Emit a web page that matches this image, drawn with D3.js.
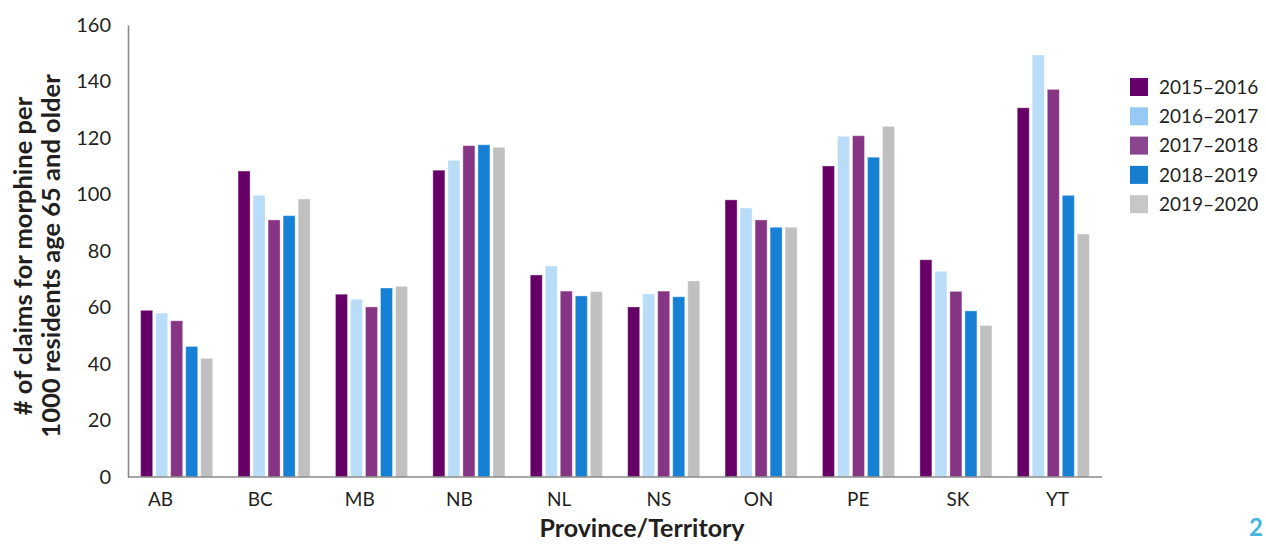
<!DOCTYPE html>
<html>
<head>
<meta charset="utf-8">
<script src="https://cdn.jsdelivr.net/npm/d3@7"></script>
<style>
  html, body { margin: 0; padding: 0; background: #fff; }
  svg { display: block; }
  text { font-family: Lato, "Noto Sans", sans-serif; fill: #231f20; }
</style>
</head>
<body>
<svg id="chart" width="1266" height="545"></svg>
<script>
// ---- data ----
const categories = ["AB", "BC", "MB", "NB", "NL", "NS", "ON", "PE", "SK", "YT"];
const seriesNames = ["2015\u20132016", "2016\u20132017", "2017\u20132018", "2018\u20132019", "2019\u20132020"];
const v2015_2016 = [59.0, 108.3, 64.7, 108.6, 71.5, 60.2, 98.1, 110.1, 76.9, 130.7];
const v2016_2017 = [58.0, 99.7, 62.9, 112.1, 74.7, 64.8, 95.2, 120.6, 72.8, 149.4];
const v2017_2018 = [55.3, 91.0, 60.2, 117.3, 65.8, 65.8, 91.0, 120.8, 65.7, 137.2];
const v2018_2019 = [46.2, 92.5, 66.9, 117.6, 64.1, 63.8, 88.4, 113.2, 58.8, 99.7];
const v2019_2020 = [42.0, 98.4, 67.5, 116.7, 65.6, 69.4, 88.4, 124.1, 53.6, 86.0];
const seriesValues = [v2015_2016, v2016_2017, v2017_2018, v2018_2019, v2019_2020];
const yTicks = [0, 20, 40, 60, 80, 100, 120, 140, 160];
const yTitleLines = ["# of claims for morphine per", "1000 residents age 65 and older"];
const xTitle = "Province/Territory";

// ---- styles ----
const barColors = ["#660066", "#b9dcf8", "#863584", "#1580d4", "#c0c0c0"];
const legendColors = ["#65006a", "#96caf4", "#8a4590", "#167dcf", "#c7c7c7"];

const svg = d3.select("#chart");

const plotLeft = 128, plotRight = 1102, plotTop = 25, plotBottom = 477;

const y = d3.scaleLinear().domain([0, 160]).range([plotBottom, plotTop]);

const x = d3.scaleBand().domain(categories)
  .range([plotLeft, plotRight]).paddingInner(0.26).paddingOuter(0.13);

const xs = d3.scaleBand().domain(d3.range(seriesNames.length))
  .range([0, x.bandwidth()]).paddingInner(0.2).paddingOuter(0);

// label scale (tick labels sit slightly differently from the bar groups)
const xLabel = d3.scalePoint().domain(categories).range([160, 1057]);

// bars
const groups = svg.append("g").selectAll("g")
  .data(categories).join("g")
  .attr("transform", d => `translate(${x(d)},0)`);

groups.selectAll("rect")
  .data((c, i) => seriesValues.map((vals, s) => ({ s, v: vals[i] })))
  .join("rect")
  .attr("x", d => xs(d.s))
  .attr("width", xs.bandwidth())
  .attr("y", d => y(d.v))
  .attr("height", d => y(0) - y(d.v))
  .attr("fill", d => barColors[d.s])
  .attr("stroke", "#ffffff")
  .attr("stroke-opacity", 0.35)
  .attr("stroke-width", 1);

// y axis
const yAxis = d3.axisLeft(y).tickValues(yTicks).tickSize(0).tickPadding(17);
const gy = svg.append("g").attr("transform", `translate(${plotLeft},0)`).call(yAxis);
gy.select(".domain").attr("stroke", "#8a8a8a").attr("stroke-width", 1.6);
gy.selectAll("text").style("font-family", "Lato, sans-serif").style("font-size", "20px").attr("fill", "#231f20");

// x axis
const xAxis = d3.axisBottom(xLabel).tickSize(0).tickPadding(16);
const gx = svg.append("g").attr("transform", `translate(0,${plotBottom})`).call(xAxis);
gx.select(".domain").remove();
gx.selectAll("text").style("font-family", "Lato, sans-serif").style("font-size", "19px").attr("fill", "#231f20");
svg.append("line")
  .attr("x1", plotLeft).attr("x2", plotRight)
  .attr("y1", plotBottom).attr("y2", plotBottom)
  .attr("stroke", "#8a8a8a").attr("stroke-width", 1.6);

// x title
svg.append("text")
  .attr("x", 642).attr("y", 537)
  .attr("text-anchor", "middle")
  .style("font-weight", "bold").style("font-size", "25px")
  .text(xTitle);

// y title
const yt = svg.append("text")
  .attr("transform", "translate(0,256) rotate(-90)")
  .attr("text-anchor", "middle")
  .style("font-weight", "bold").style("font-size", "25.5px");
yTitleLines.forEach((line, i) => {
  yt.append("tspan").attr("x", 0).attr("y", 32 + i * 28).text(line);
});

// legend
const legend = svg.append("g").attr("transform", "translate(1130,78)");
const li = legend.selectAll("g").data(seriesNames).join("g")
  .attr("transform", (d, i) => `translate(0,${i * 29.3})`);
li.append("rect").attr("width", 18).attr("height", 18).attr("fill", (d, i) => legendColors[i]);
li.append("text").attr("x", 29).attr("y", 9).attr("dy", "0.35em")
  .style("font-size", "19px").text(d => d);

// page number
svg.append("text")
  .attr("x", 1249).attr("y", 536)
  .style("font-weight", "bold").style("font-size", "24px")
  .style("fill", "#44b5dd")
  .text("2");
</script>
</body>
</html>
